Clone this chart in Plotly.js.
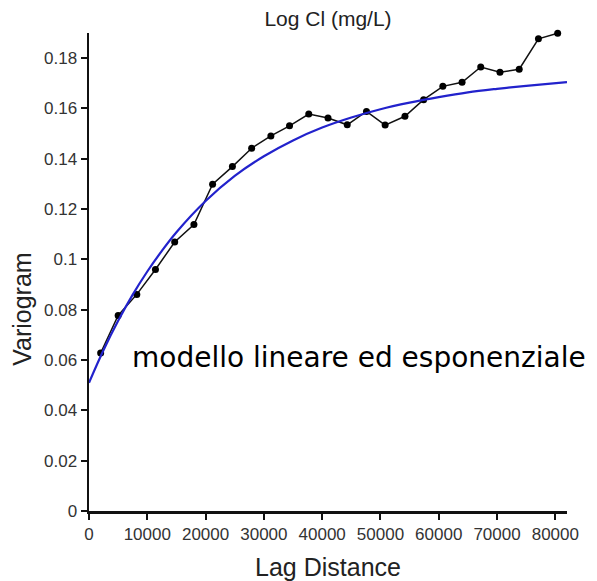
<!DOCTYPE html>
<html>
<head>
<meta charset="utf-8">
<script src="https://cdn.plot.ly/plotly-3.0.1.min.js"></script>
<style>html,body{margin:0;padding:0;background:#fff;}#chart{width:597px;height:581px;}</style>
</head>
<body>
<div id="chart"></div>
<script>
const lagDistance = [2000, 5000, 8200, 11400, 14700, 18000, 21200, 24600, 27900, 31200, 34400, 37700, 41000, 44300, 47600, 50800, 54200, 57400, 60700, 64000, 67200, 70500, 73800, 77100, 80400];
const variogram = [0.0628, 0.0777, 0.0861, 0.0960, 0.1069, 0.1139, 0.1299, 0.1369, 0.1442, 0.1491, 0.1531, 0.1578, 0.1562, 0.1535, 0.1588, 0.1534, 0.1569, 0.1635, 0.1688, 0.1704, 0.1765, 0.1744, 0.1756, 0.1877, 0.1899];

// Fitted model curve
const modelLag = [0, 2500, 5000, 7500, 10000, 12500, 15000, 20000, 25000, 30000, 35000, 40000, 45000, 50000, 55000, 60000, 65000, 70000, 75000, 82000];
const modelGamma = [0.0510, 0.0640, 0.0756, 0.0860, 0.0952, 0.1034, 0.1108, 0.1232, 0.1332, 0.1410, 0.1473, 0.1524, 0.1564, 0.1597, 0.1623, 0.1645, 0.1664, 0.1678, 0.1690, 0.1705];

const xTicks = [0, 10000, 20000, 30000, 40000, 50000, 60000, 70000, 80000];
const yTicks = [0, 0.02, 0.04, 0.06, 0.08, 0.1, 0.12, 0.14, 0.16, 0.18];

const chartTitle = 'Log Cl (mg/L)';
const xTitle = 'Lag Distance';
const yTitle = 'Variogram';
const noteText = 'modello lineare ed esponenziale';

const traces = [
  {
    x: lagDistance, y: variogram, type: 'scatter', mode: 'lines+markers',
    line: {color: '#111111', width: 1.5},
    marker: {color: '#000000', size: 7},
    cliponaxis: false, showlegend: false
  },
  {
    x: modelLag, y: modelGamma, type: 'scatter', mode: 'lines',
    line: {color: '#2222cc', width: 2.2, shape: 'spline'},
    cliponaxis: false, showlegend: false
  }
];

const axisFont = {family: 'Liberation Sans, Arial, sans-serif', size: 17, color: '#333333'};

const layout = {
  width: 597, height: 581,
  margin: {l: 89, r: 30, t: 33, b: 70, pad: 0},
  paper_bgcolor: '#ffffff', plot_bgcolor: '#ffffff',
  showlegend: false,
  title: {
    text: chartTitle, x: 0.5, xref: 'paper', xanchor: 'center',
    y: 1 - 19 / 581, yref: 'container', yanchor: 'middle',
    font: {family: 'Liberation Sans, Arial, sans-serif', size: 21, color: '#222222'}
  },
  xaxis: {
    range: [0, 82000], tickvals: xTicks, tickformat: 'd',
    showline: true, linecolor: '#111111', linewidth: 2.5,
    ticks: 'outside', ticklen: 6, tickwidth: 2, tickcolor: '#111111',
    showgrid: false, zeroline: false, tickfont: axisFont,
    title: {text: xTitle, standoff: 19, font: {family: 'Liberation Sans, Arial, sans-serif', size: 25, color: '#222222'}}
  },
  yaxis: {
    range: [0, 0.19], tickvals: yTicks,
    showline: true, linecolor: '#111111', linewidth: 2.5,
    ticks: 'outside', ticklen: 6, tickwidth: 2, tickcolor: '#111111',
    showgrid: false, zeroline: false, tickfont: axisFont
  },
  annotations: [
    {
      text: yTitle, textangle: -90, showarrow: false,
      xref: 'paper', yref: 'paper', x: (22 - 89) / 477.4, y: (511 - 309) / 477.7,
      xanchor: 'center', yanchor: 'middle',
      font: {family: 'Liberation Sans, Arial, sans-serif', size: 25, color: '#222222'}
    },
    {
      text: noteText, showarrow: false,
      xref: 'x', yref: 'y', x: 7000, y: 0.061,
      xanchor: 'left', yanchor: 'middle',
      font: {family: 'DejaVu Sans, sans-serif', size: 28, color: '#000000'}
    }
  ]
};

Plotly.newPlot('chart', traces, layout, {displayModeBar: false, staticPlot: true});
</script>
</body>
</html>
